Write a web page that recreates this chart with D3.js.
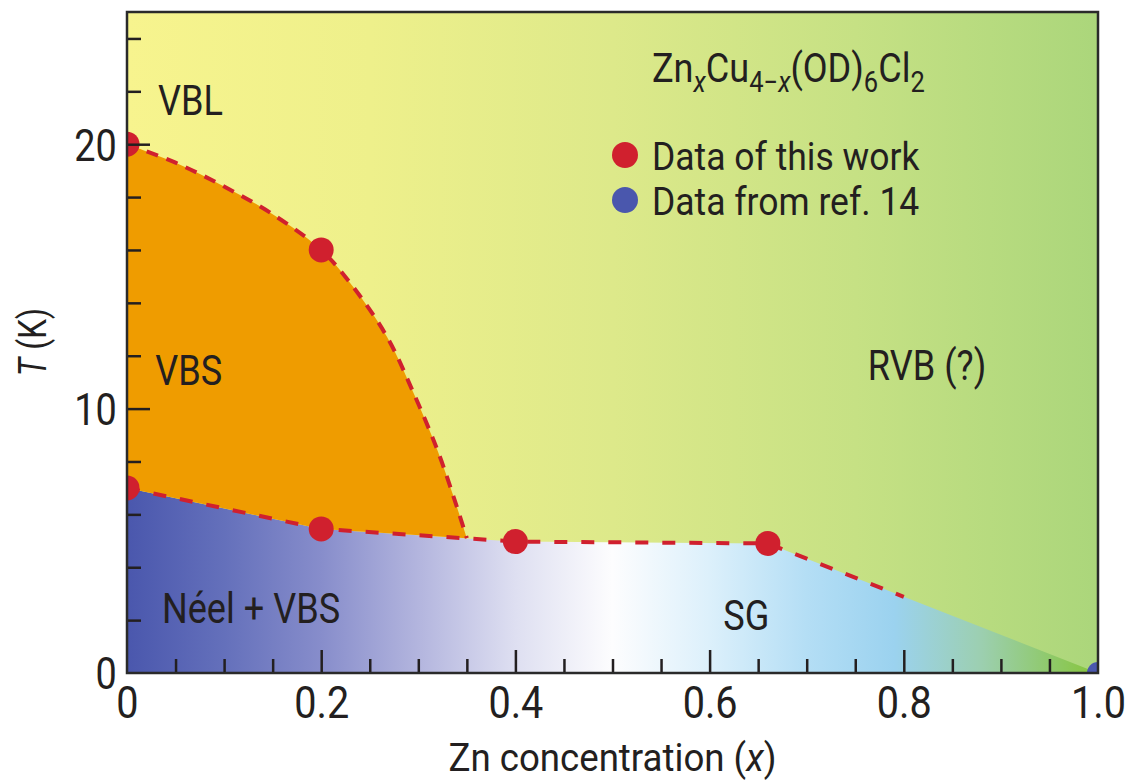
<!DOCTYPE html>
<html>
<head>
<meta charset="utf-8">
<script src="https://cdn.jsdelivr.net/npm/d3@7"></script>
<style>
  html, body { margin: 0; padding: 0; background: #ffffff; }
  svg { display: block; }
  text { font-family: "Liberation Sans Narrow", "Roboto", "Liberation Sans", sans-serif; fill: #231f20; }
</style>
</head>
<body>
<svg id="chart" width="1129" height="782"></svg>
<script>
// Phase boundaries and measured transition points of ZnxCu4-x(OD)6Cl2
const xMajorTicks = [0, 0.2, 0.4, 0.6, 0.8, 1.0];
const xTickLabels = ["0", "0.2", "0.4", "0.6", "0.8", "1.0"];
const yMajorTicks = [0, 10, 20];
const yTickLabels = ["0", "10", "20"];

// VBL / VBS boundary (upper dashed curve)
const upperX = [0, 0.05, 0.1, 0.15, 0.2, 0.233, 0.268, 0.295, 0.32, 0.336, 0.35];
const upperT = [20, 19.3, 18.4, 17.35, 16.0, 14.6, 12.7, 10.6, 8.4, 6.7, 5.1];

// Lower boundary (Néel + VBS / SG), ending at the x = 1 point
const lowerX = [0, 0.2, 0.4, 0.66, 1.0];
const lowerT = [7, 5.45, 4.97, 4.9, 0];
const dashEndX = 0.8;

// Data of this work
const redX = [0, 0.2, 0, 0.2, 0.4, 0.66];
const redT = [20, 16, 7, 5.45, 4.97, 4.9];
// Data from ref. 14
const blueX = [1.0];
const blueT = [0];

const regionLabels = ["VBL", "VBS", "Néel + VBS", "SG", "RVB (?)"];
const regionLabelX = [0.032, 0.029, 0.036, 0.614, 0.763];
const regionLabelT = [21.1, 10.9, 1.89, 1.63, 11.08];

const svg = d3.select("#chart");
const pLeft = 127, pRight = 1098, pTop = 12, pBottom = 673;
const condensed = "scale(0.86,1)";

const x = d3.scaleLinear().domain([0, 1]).range([pLeft, pRight]);
const y = d3.scaleLinear().domain([0, 25]).range([pBottom, pTop]);

const defs = svg.append("defs");

// Background (VBL → RVB) gradient
const bg = defs.append("linearGradient").attr("id", "bgGrad")
  .attr("gradientUnits", "userSpaceOnUse")
  .attr("x1", pLeft).attr("x2", pRight).attr("y1", 0).attr("y2", 0);
[[0, "#f7f48e"], [0.25, "#eef08b"], [0.5, "#dde98a"], [0.75, "#c6e184"], [1, "#abd67b"]]
  .forEach(([o, c]) => bg.append("stop").attr("offset", o).attr("stop-color", c));

// Low temperature region gradient (Néel → SG)
const lg = defs.append("linearGradient").attr("id", "lowGrad")
  .attr("gradientUnits", "userSpaceOnUse")
  .attr("x1", pLeft).attr("x2", pRight).attr("y1", 0).attr("y2", 0);
[[0, "#4a57ad"], [0.1, "#6470bb"], [0.2, "#878dcb"], [0.3, "#b3b5de"], [0.4, "#dedff1"],
 [0.5, "#fdfdfe"], [0.6, "#dcf0fb"], [0.7, "#b4def5"], [0.79, "#9bd2ef"], [0.88, "#9ccfb0"], [1, "#86c53a"]]
  .forEach(([o, c]) => lg.append("stop").attr("offset", o).attr("stop-color", c));

defs.append("clipPath").attr("id", "plotClip")
  .append("rect").attr("x", pLeft).attr("y", pTop)
  .attr("width", pRight - pLeft).attr("height", pBottom - pTop);

const plot = svg.append("g").attr("clip-path", "url(#plotClip)");

plot.append("rect").attr("x", pLeft).attr("y", pTop)
  .attr("width", pRight - pLeft).attr("height", pBottom - pTop)
  .attr("fill", "url(#bgGrad)");

const upperPts = upperX.map((v, i) => [v, upperT[i]]);
const lowerPts = lowerX.map((v, i) => [v, lowerT[i]]);

const curveGen = d3.line().x(d => x(d[0])).y(d => y(d[1])).curve(d3.curveCatmullRom.alpha(0.5));
const lineGen = d3.line().x(d => x(d[0])).y(d => y(d[1]));

// Lower region polygon
const lowPoly = [[0, 0]].concat(lowerPts);
plot.append("path")
  .attr("d", lineGen(lowPoly) + "Z")
  .attr("fill", "url(#lowGrad)");

// VBS region: upper curve, then back along the lower line
const xEnd = upperX[upperX.length - 1];
const lowerBack = lowerPts.filter(d => d[0] < xEnd).reverse();
const vbsPath = curveGen(upperPts) + lowerBack.map(d => "L" + x(d[0]) + "," + y(d[1])).join("") + "Z";
plot.append("path").attr("d", vbsPath).attr("fill", "#ef9c00");

// Dashed boundaries
const red = "#d0202e";
plot.append("path").attr("d", curveGen(upperPts))
  .attr("fill", "none").attr("stroke", red).attr("stroke-width", 4)
  .attr("stroke-dasharray", "12,9");

const segT = d3.scaleLinear().domain([lowerX[3], lowerX[4]]).range([lowerT[3], lowerT[4]]);
const dashedLower = lowerPts.slice(0, 4).concat([[dashEndX, segT(dashEndX)]]);
plot.append("path").attr("d", lineGen(dashedLower))
  .attr("fill", "none").attr("stroke", red).attr("stroke-width", 4)
  .attr("stroke-dasharray", "13,14");

// Points
plot.selectAll("circle.red").data(redX.map((v, i) => [v, redT[i]])).join("circle")
  .attr("class", "red").attr("cx", d => x(d[0])).attr("cy", d => y(d[1]))
  .attr("r", 12.5).attr("fill", red);
plot.selectAll("circle.blue").data(blueX.map((v, i) => [v, blueT[i]])).join("circle")
  .attr("class", "blue").attr("cx", d => x(d[0])).attr("cy", d => y(d[1]))
  .attr("r", 11).attr("fill", "#4a57ad");

// Axes: inward major and minor ticks
const axisColor = "#231f20";
const xMinor = d3.range(0, 1.0001, 0.05).filter(v => Math.abs(v * 5 - Math.round(v * 5)) > 1e-6);
const yMinor = d3.range(0, 25, 2).filter(v => v % 10 !== 0);

const gx = svg.append("g").attr("transform", `translate(0,${pBottom})`);
gx.call(d3.axisBottom(x).tickValues(xMinor).tickSize(-14).tickFormat(""));
gx.select(".domain").remove();
const gx2 = svg.append("g").attr("transform", `translate(0,${pBottom})`);
gx2.call(d3.axisBottom(x).tickValues(xMajorTicks).tickSize(-23).tickPadding(0)
  .tickFormat((d, i) => xTickLabels[i]));
gx2.select(".domain").remove();
gx2.selectAll("text").attr("font-size", 44).attr("dy", 0).attr("y", 45)
  .attr("transform", "scale(0.9,1)").attr("fill", axisColor);

const gy = svg.append("g").attr("transform", `translate(${pLeft},0)`);
gy.call(d3.axisLeft(y).tickValues(yMinor).tickSize(-14).tickFormat(""));
gy.select(".domain").remove();
const gy2 = svg.append("g").attr("transform", `translate(${pLeft},0)`);
gy2.call(d3.axisLeft(y).tickValues(yMajorTicks).tickSize(-23).tickPadding(12)
  .tickFormat((d, i) => yTickLabels[i]));
gy2.select(".domain").remove();
gy2.selectAll("text").attr("font-size", 44).attr("dy", "0.36em")
  .attr("transform", condensed).attr("fill", axisColor);

svg.selectAll(".tick line").attr("stroke", axisColor).attr("stroke-width", 2.5);
gx2.selectAll(".tick").filter(d => d === 0 || d === 1).select("line").remove();
gy2.selectAll(".tick").filter(d => d === 0).select("line").remove();

// Frame
svg.append("rect").attr("x", pLeft).attr("y", pTop)
  .attr("width", pRight - pLeft).attr("height", pBottom - pTop)
  .attr("fill", "none").attr("stroke", "#2a2a2a").attr("stroke-width", 2.5);

// Axis titles
svg.append("g").attr("transform", `translate(${x(0.5)},771)`)
  .append("text").attr("text-anchor", "middle").attr("font-size", 39)
  .attr("transform", "scale(0.94,1)")
  .html('Zn concentration (<tspan font-style="italic">x</tspan>)');
svg.append("g").attr("transform", "translate(46,342) rotate(-90)")
  .append("text").attr("text-anchor", "middle").attr("font-size", 38)
  .attr("transform", "scale(0.84,1)")
  .html('<tspan font-style="italic">T</tspan> (K)');

// Region labels
svg.selectAll("g.region").data(regionLabels).join("g")
  .attr("class", "region")
  .attr("transform", (d, i) => `translate(${x(regionLabelX[i])},${y(regionLabelT[i])})`)
  .append("text").attr("font-size", 42).attr("transform", condensed).text(d => d);

// Compound formula
svg.append("g").attr("transform", "translate(652,82)")
  .append("text").attr("font-size", 41).attr("transform", "scale(0.88,1)")
  .html('Zn<tspan font-size="29" font-style="italic" dy="10">x</tspan><tspan dy="-10">Cu</tspan>' +
        '<tspan font-size="29" dy="10">4−<tspan font-style="italic">x</tspan></tspan>' +
        '<tspan dy="-10">(OD)</tspan><tspan font-size="29" dy="10">6</tspan>' +
        '<tspan dy="-10">Cl</tspan><tspan font-size="29" dy="10">2</tspan>');

// Legend
const legendItems = ["Data of this work", "Data from ref. 14"];
const legendColors = [red, "#4a57ad"];
const lg2 = svg.append("g");
legendItems.forEach((t, i) => {
  lg2.append("circle").attr("cx", 625).attr("cy", 155 + i * 45).attr("r", 13)
    .attr("fill", legendColors[i]);
  lg2.append("g").attr("transform", `translate(652,${170 + i * 45})`)
    .append("text").attr("font-size", 39).attr("transform", "scale(0.91,1)").text(t);
});
</script>
</body>
</html>
